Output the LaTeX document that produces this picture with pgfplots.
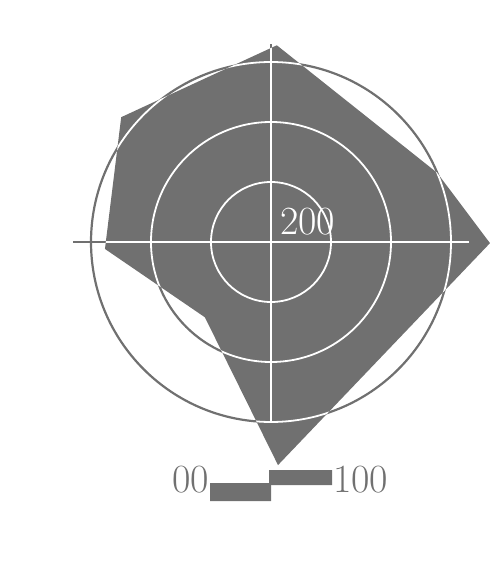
\documentclass[border=0pt]{standalone}
\usepackage{pgfplots}
\pgfplotsset{compat=1.18}
\usepgfplotslibrary{polar}
\definecolor{fillgray}{RGB}{112,112,112}
\pgfplotsset{ringaxis/.style={
    at={(271pt,323pt)}, anchor=center,
    scale only axis, width=396pt, height=396pt,
    ymin=0, ymax=330,
    ytick={100,200,300},
    xticklabel style={text opacity=0}, yticklabel style={text opacity=0},
    major tick length=0pt,
    axis line style={draw=none},
    clip=false,
}}
% polygon: angle (deg), radius
\pgfplotstableread{
a r
88.3 328
22.6 300
359.7 365
271.8 372
228.7 167
182.4 277
140.2 325
88.3 328
}\shape
% the same polygon as a clip path
\def\clippath{}
\pgfplotstablegetrowsof{\shape}
\pgfmathtruncatemacro\lastrow{\pgfplotsretval-1}
\foreach \i in {0,...,\lastrow}{
  \pgfplotstablegetelem{\i}{a}\of\shape \let\ta\pgfplotsretval
  \pgfplotstablegetelem{\i}{r}\of\shape \let\tr\pgfplotsretval
  \xdef\clippath{\clippath (axis cs:\ta,\tr) --}
}
\begin{document}
\begin{tikzpicture}
\path (0,0) rectangle (490pt,565pt);
\begin{polaraxis}[ringaxis,
    xtick={0,90,180,270}, grid=major,
    major grid style={draw=fillgray, line width=2.2pt}]
\addplot[fill=fillgray, draw=none] table[x=a, y=r] {\shape};
\begin{scope}
\clip \clippath cycle;
\draw[white, line width=1.8pt] (axis cs:0,0) circle[radius=60pt];
\draw[white, line width=1.8pt] (axis cs:0,0) circle[radius=120pt];
\draw[white, line width=1.8pt] (axis cs:0,0) circle[radius=180pt];
\draw[white, line width=1.8pt] (axis cs:0,330) -- (axis cs:180,330);
\draw[white, line width=1.8pt] (axis cs:90,330) -- (axis cs:270,302);
\end{scope}
\end{polaraxis}
\begin{axis}[at={(0pt,0pt)}, anchor=south west, scale only axis,
    width=490pt, height=565pt, xmin=0, xmax=490, ymin=0, ymax=565,
    y dir=reverse, hide axis, clip=false]
\addplot[fill=fillgray, draw=none] coordinates {(210,483) (271,483) (271,501) (210,501) (210,483)};
\addplot[fill=fillgray, draw=none] coordinates {(269,470) (332,470) (332,485) (269,485) (269,470)};
\node[anchor=base west, text=white, font=\fontsize{40}{42}\selectfont, inner sep=0pt] at (axis cs:280,234) {200};
\node[anchor=base east, text=fillgray, font=\fontsize{40}{42}\selectfont, inner sep=0pt] at (axis cs:209,492) {00};
\node[anchor=base west, text=fillgray, font=\fontsize{40}{42}\selectfont, inner sep=0pt] at (axis cs:333,492) {100};
\end{axis}
\end{tikzpicture}
\end{document}
